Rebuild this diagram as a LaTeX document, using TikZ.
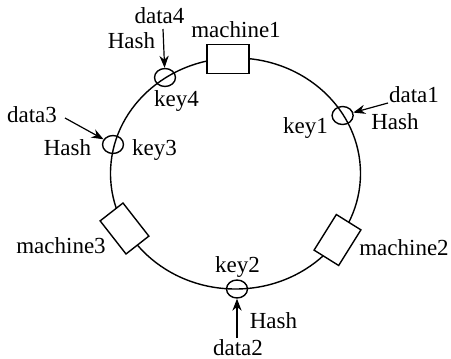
\documentclass[tikz,border=0pt]{standalone}
\usepackage{fontspec}
\setmainfont{LiberationSerif-Regular.ttf}
\usetikzlibrary{shapes.geometric,arrows.meta}
\begin{document}
\begin{tikzpicture}[x=0.5pt,y=-0.5pt,
  lbl/.style={anchor=base,inner sep=0pt,font=\fontsize{11.5}{13}\selectfont},
  keyc/.style={draw,ellipse,minimum width=10.5pt,minimum height=9pt,inner sep=0pt,line width=0.7pt},
  mbox/.style={draw,fill=white,rectangle,minimum width=21pt,minimum height=14.5pt,inner sep=0pt,line width=0.7pt},
  ring/.style={line width=0.7pt},
  harrow/.style={line width=0.6pt,-{Stealth[length=6pt,width=4.6pt]}}]
\useasboundingbox (0,0) rectangle (451,359);
% ring
\coordinate (c) at (235.5,173.5);
\draw[ring] (c) ellipse [x radius=62.5pt, y radius=57.75pt];
% machines
\node[mbox] (m1) at (228,59) {};
\node[mbox,rotate=58] (m2) at (337.5,240) {};
\node[mbox,rotate=-52] (m3) at (124.5,228.5) {};
% keys
\node[keyc] (k4) at (165,77.5) {};
\node[keyc] (k3) at (113,144.5) {};
\node[keyc] (k1) at (342.6,115.5) {};
\node[keyc] (k2) at (237,289) {};
% arrow tails
\coordinate (t4) at (163,29);
\coordinate (t3) at (65,118);
\coordinate (t1) at (388,103);
\coordinate (t2) at (237,338);
\draw[harrow] (t4) -- (k4);
\draw[harrow] (t3) -- (k3);
\draw[harrow] (t1) -- (k1);
\draw[harrow] (t2) -- (k2);
% labels
\node[lbl] (lm1) at (236,37) {machine1};
\node[lbl] (lm2) at (404,255) {machine2};
\node[lbl] (lm3) at (61,253) {machine3};
\node[lbl] (lk4) at (176.5,106) {key4};
\node[lbl] (lk3) at (154.5,155) {key3};
\node[lbl] (lk1) at (305.5,133) {key1};
\node[lbl] (lk2) at (237.5,272) {key2};
\node[lbl] (d4) at (159.5,23) {data4};
\node[lbl] (h4) at (131.5,48) {Hash};
\node[lbl] (d3) at (32,122) {data3};
\node[lbl] (h3) at (67.5,155) {Hash};
\node[lbl] (d1) at (414,102) {data1};
\node[lbl] (h1) at (395,129) {Hash};
\node[lbl] (d2) at (238,355) {data2};
\node[lbl] (h2) at (273.5,328) {Hash};
\end{tikzpicture}
\end{document}
